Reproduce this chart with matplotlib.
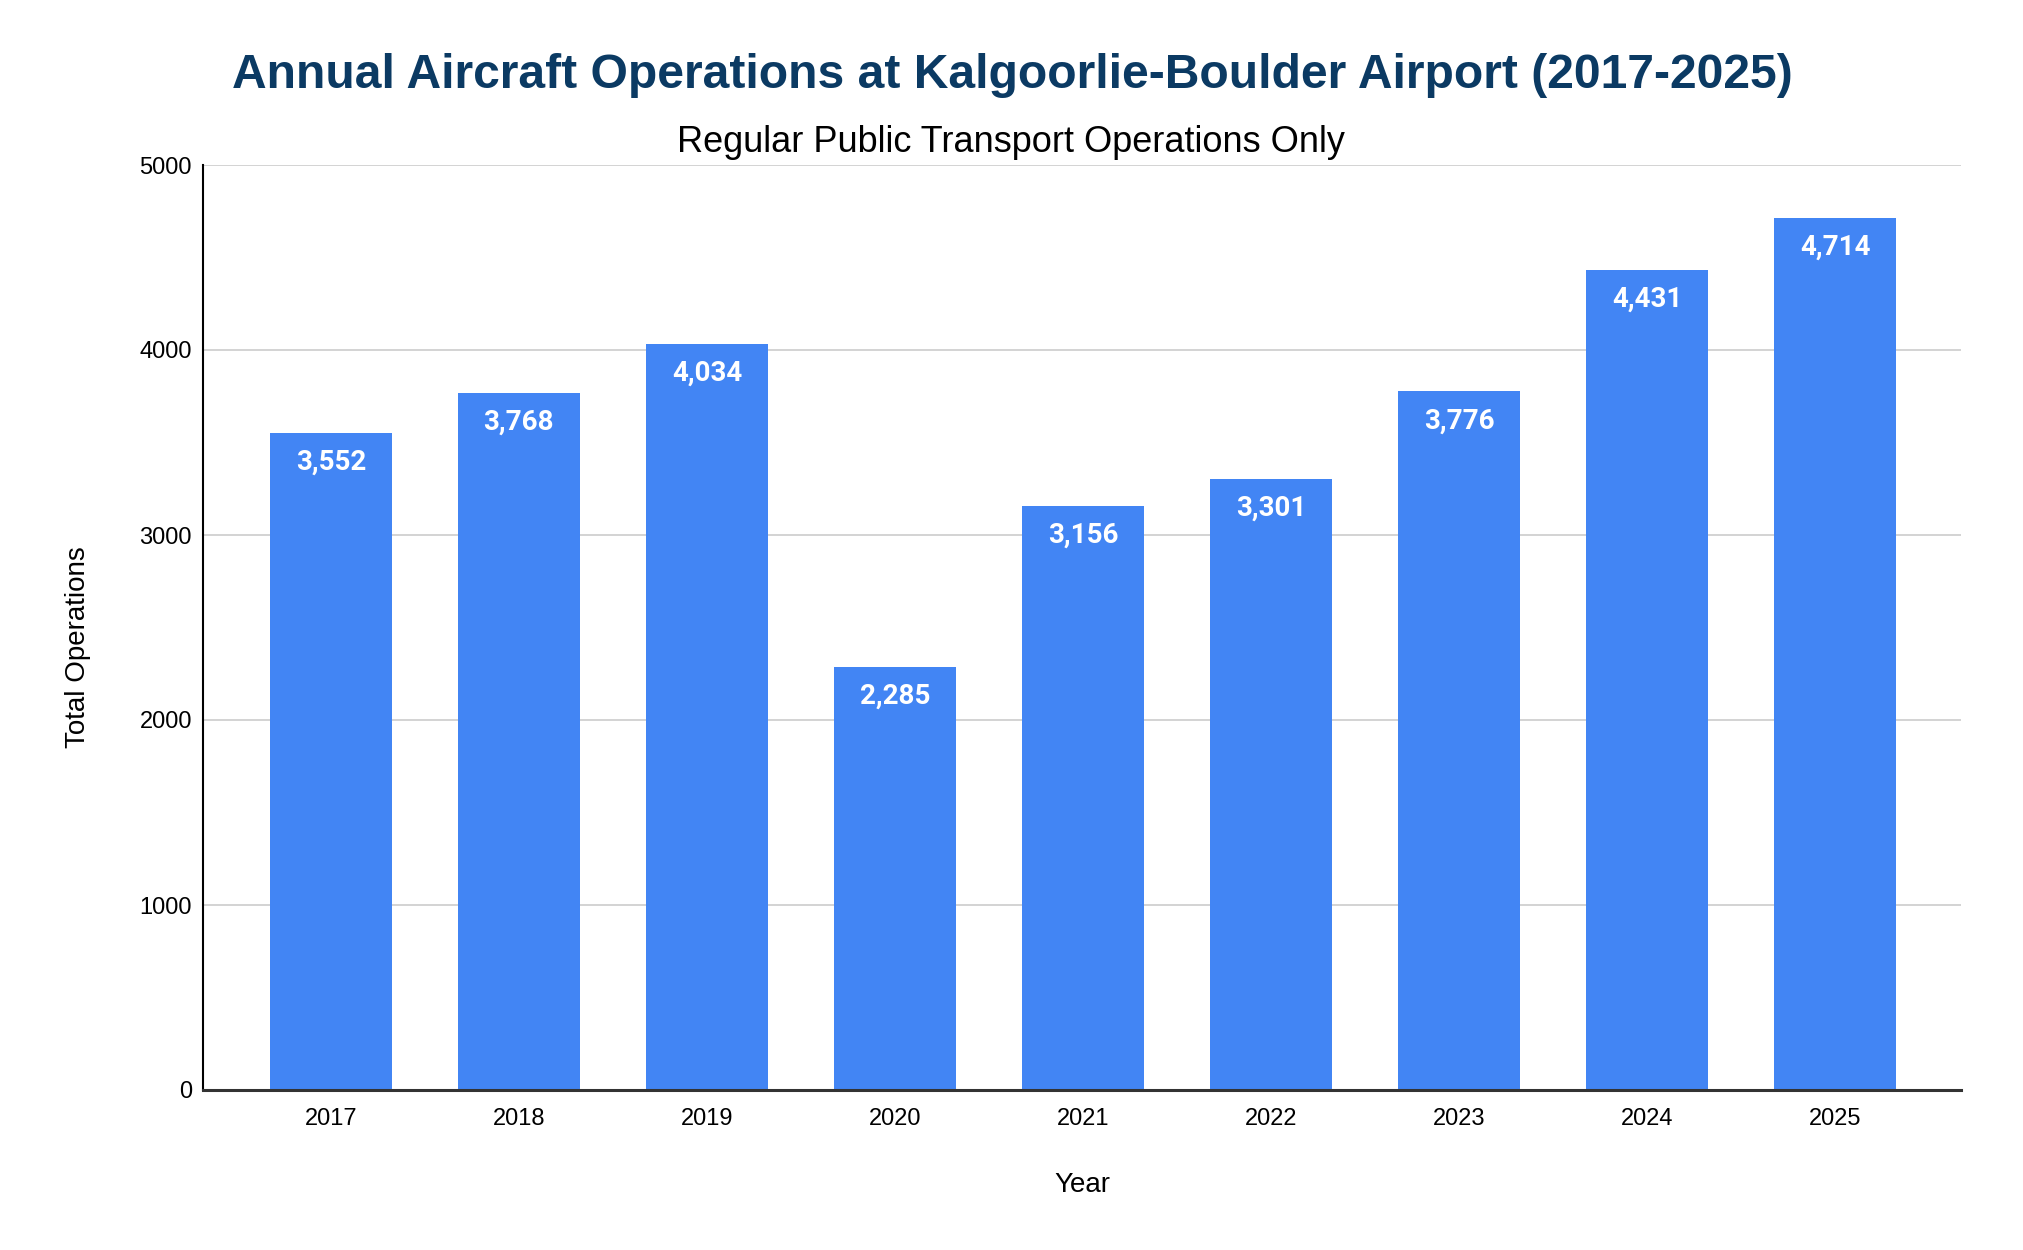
import matplotlib
matplotlib.use("Agg")
import matplotlib.pyplot as plt

# chart data
years = ["2017", "2018", "2019", "2020", "2021", "2022", "2023", "2024", "2025"]
operations = [3552, 3768, 4034, 2285, 3156, 3301, 3776, 4431, 4714]
y_ticks = [0, 1000, 2000, 3000, 4000, 5000]

title = "Annual Aircraft Operations at Kalgoorlie-Boulder Airport (2017-2025)"
subtitle = "Regular Public Transport Operations Only"

plt.rcParams['font.family'] = ['Liberation Sans', 'DejaVu Sans']

fig = plt.figure(figsize=(20.24, 12.5), dpi=100)
ax = fig.add_axes([0.1003, 0.128, 0.8686, 0.74])

x = range(len(years))
bars = ax.bar(x, operations, width=0.65, color="#4285F4", zorder=3)

for b, v in zip(bars, operations):
    ax.annotate(f"{v:,}", (b.get_x() + b.get_width() / 2, v),
                xytext=(0, -26.5), textcoords="offset points",
                ha="center", va="baseline", color="white",
                fontsize=20, fontweight="bold", family=["Roboto", "DejaVu Sans"])

ax.set_xlim(-0.68, 8.67)
ax.set_ylim(0, 5000)
ax.set_xticks(list(x))
ax.set_xticklabels(years)
ax.set_yticks(y_ticks)
ax.tick_params(axis="both", length=0, labelsize=17)
ax.tick_params(axis="y", pad=8)
ax.tick_params(axis="x", pad=13)

ax.grid(axis="y", color="#cccccc", linewidth=1.2, zorder=0)
ax.set_axisbelow(True)
for s in ["top", "right"]:
    ax.spines[s].set_visible(False)
ax.spines["left"].set_color("black")
ax.spines["left"].set_linewidth(1.5)
ax.spines["bottom"].set_color("#333333")
ax.spines["bottom"].set_linewidth(2.2)
ax.spines["bottom"].set_zorder(4)

fig.text(0.5, 0.9296, title, ha="center", va="baseline",
         fontsize=34.6, fontweight="bold", color="#0b3a63")
fig.text(0.4995, 0.8784, subtitle, ha="center", va="baseline",
         fontsize=26, color="black")
fig.text(0.5346, 0.0464, "Year", ha="center", va="baseline", fontsize=20)
fig.text(0.0385, 0.4824, "Total Operations", ha="center", va="center",
         rotation=90, fontsize=20)

fig.savefig("out.png", dpi=100)
